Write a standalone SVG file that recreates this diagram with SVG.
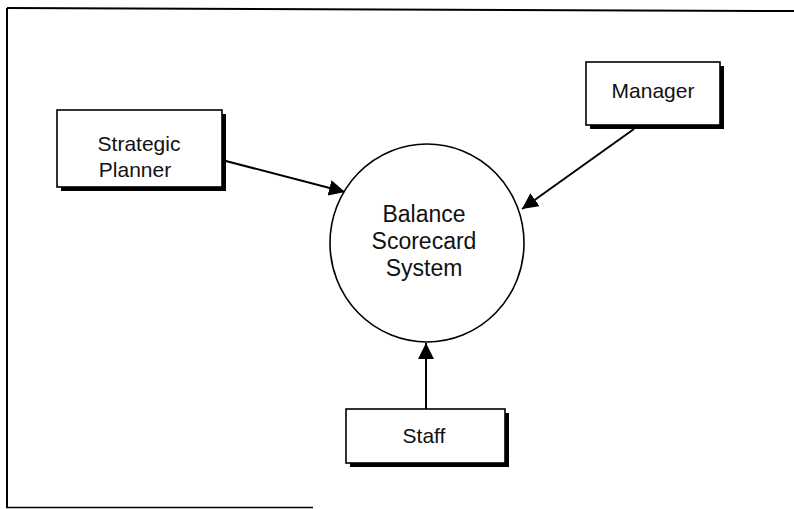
<svg xmlns="http://www.w3.org/2000/svg" width="794" height="509" viewBox="0 0 794 509">
<defs>
<style>
.box{fill:#fff;stroke:#000;stroke-width:1.6}
.shadow{fill:#000}
.lbl{font-family:"Liberation Sans",Arial,sans-serif;font-size:21px;fill:#111;text-anchor:middle}
.clbl{font-family:"Liberation Sans",Arial,sans-serif;font-size:23px;fill:#111;text-anchor:middle}
.conn{stroke:#000;stroke-width:2;fill:none}
</style>
<marker id="ah" viewBox="0 0 10 10" refX="10" refY="5" markerWidth="16" markerHeight="16" markerUnits="userSpaceOnUse" orient="auto">
<path d="M0,0 L10,5 L0,10 z" fill="#000"/>
</marker>
</defs>
<rect width="794" height="509" fill="#fff"/>
<g id="frame" stroke="#000" fill="none">
<line x1="7" y1="8" x2="794" y2="11" stroke-width="2"/>
<line x1="7" y1="8" x2="7" y2="508" stroke-width="2"/>
<line x1="6" y1="507.5" x2="313" y2="507.5" stroke-width="1.5"/>
</g>
<g id="connectors">
<line class="conn" x1="222" y1="160" x2="345" y2="192" marker-end="url(#ah)"/>
<line class="conn" x1="634" y1="129" x2="522" y2="209" marker-end="url(#ah)"/>
<line class="conn" x1="426" y1="409" x2="426" y2="343" marker-end="url(#ah)"/>
</g>
<g id="strategic-planner">
<rect class="shadow" x="61" y="114" width="165" height="77"/>
<rect class="box" x="57" y="110" width="165" height="77"/>
<text class="lbl" x="139" y="151">Strategic</text>
<text class="lbl" x="135" y="177">Planner</text>
</g>
<g id="manager">
<rect class="shadow" x="590" y="66" width="134" height="63"/>
<rect class="box" x="586" y="62" width="134" height="63"/>
<text class="lbl" x="653" y="98">Manager</text>
</g>
<g id="system">
<ellipse cx="427" cy="243" rx="97" ry="99" fill="#fff" stroke="#000" stroke-width="1.6"/>
<text class="clbl" x="424" y="222">Balance</text>
<text class="clbl" x="424" y="249">Scorecard</text>
<text class="clbl" x="424" y="276">System</text>
</g>
<g id="staff">
<rect class="shadow" x="350" y="413" width="159" height="54"/>
<rect class="box" x="346" y="409" width="159" height="54"/>
<text class="lbl" x="424" y="443">Staff</text>
</g>
</svg>
